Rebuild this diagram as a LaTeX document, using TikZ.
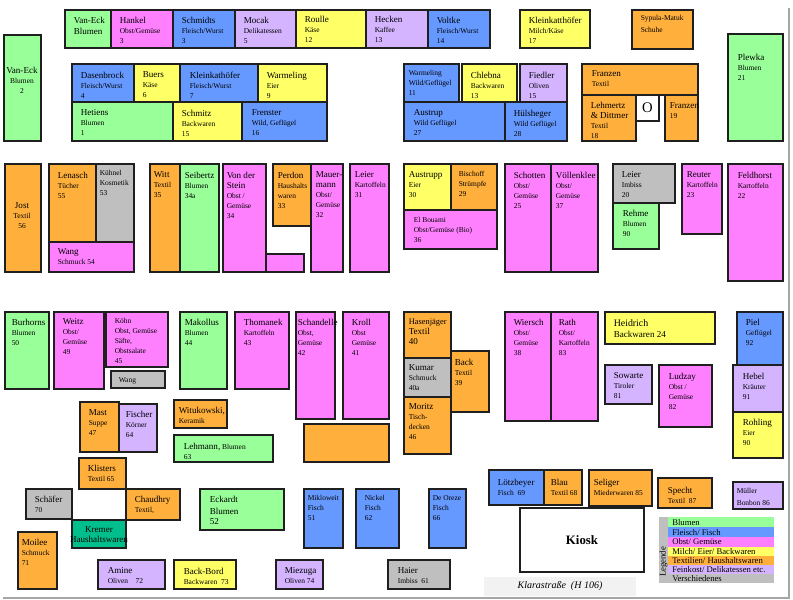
\documentclass[tikz,border=0pt]{standalone}
\usepackage{fontspec}
\setmainfont{Liberation Serif}

\newcommand{\nm}[1]{{\fontsize{6.8}{8}\selectfont #1}}

\definecolor{cblumen}{HTML}{99FF99}
\definecolor{cfleisch}{HTML}{6699FF}
\definecolor{cobst}{HTML}{FF80FF}
\definecolor{cmilch}{HTML}{FFFF66}
\definecolor{ctextil}{HTML}{FFAF3C}
\definecolor{cfein}{HTML}{D4B3FF}
\definecolor{cmisc}{HTML}{BFBFBF}
\definecolor{cteal}{HTML}{00BF8C}

\tikzset{
        stall/.style={draw=black!88, line width=1.15pt},
        blumen/.style={stall, fill=cblumen},
        fleisch/.style={stall, fill=cfleisch},
        obst/.style={stall, fill=cobst},
        milch/.style={stall, fill=cmilch},
        textil/.style={stall, fill=ctextil},
        fein/.style={stall, fill=cfein},
        misc/.style={stall, fill=cmisc},
        info/.style={anchor=north west, inner sep=0pt, align=left, font=\fontsize{5.6}{7.5}\selectfont},
        mid/.style={anchor=north, inner sep=0pt, align=center, font=\fontsize{5.6}{7.5}\selectfont},
        strip/.style={anchor=west, inner sep=0pt, font=\fontsize{6.5}{7}\selectfont}
}

\begin{document}
\begin{tikzpicture}[x=0.75pt, y=-0.75pt]
        \useasboundingbox (0,0) rectangle (793,600);
        \draw[black!35, line width=1.2pt] (789,8) -- (789,598) -- (3,598);

        \draw[blumen] (65,10) rectangle (111,48) node[info] (vaneckb) at (73,16) {\nm{Van-Eck}\\[1pt]\nm{Blumen}};
        \draw[obst] (111,10) rectangle (173,48) node[info] (hankel) at (119,16) {\nm{Hankel}\\Obst/Gemüse\\3};
        \draw[fleisch] (173,10) rectangle (235,48) node[info] (schmidts) at (181,16) {\nm{Schmidts}\\Fleisch/Wurst\\3};
        \draw[fein] (235,10) rectangle (296,48) node[info] (mocak) at (243,16) {\nm{Mocak}\\Delikatessen\\5};
        \draw[milch] (296,10) rectangle (366,48) node[info] (roulle) at (304,15) {\nm{Roulle}\\Käse\\12};
        \draw[fein] (366,10) rectangle (428,48) node[info] (hecken) at (374,15) {\nm{Hecken}\\Kaffee\\13};
        \draw[fleisch] (428,10) rectangle (490,48) node[info] (voltke) at (436,16) {\nm{Voltke}\\Fleisch/Wurst\\14};
        \draw[milch] (520,10) rectangle (590,48) node[info] (kleinkatt) at (528,16) {\nm{Kleinkatthöfer}\\Milch/Käse\\17};
        \draw[textil] (632,10) rectangle (693,49) node[info] (sypula) at (640,15) {Sypula-Matuk\\[1pt]Schuhe};
        \draw[blumen] (728,34) rectangle (783,141) node[info] (plewka) at (737,53) {\nm{Plewka}\\Blumen\\21};
        \draw[blumen] (4,35) rectangle (41,141) node[mid] (vaneck) at (22,66) {\nm{Van-Eck}\\Blumen\\2};

        \draw[fleisch] (72,64) rectangle (134,102) node[info] (dasenbrock) at (80,71) {\nm{Dasenbrock}\\Fleisch/Wurst\\4};
        \draw[milch] (134,64) rectangle (180,102) node[info] (buers) at (142,71) {\nm{Buers}\\Käse\\6};
        \draw[fleisch] (180,64) rectangle (258,102) node[info] (kleinkath) at (189,71) {\nm{Kleinkathöfer}\\Fleisch/Wurst\\7};
        \draw[milch] (258,64) rectangle (327,102) node[info] (warmelinga) at (266,71) {\nm{Warmeling}\\Eier\\9};
        \draw[blumen] (72,102) rectangle (173,141) node[info] (hetiens) at (80,109) {\nm{Hetiens}\\Blumen\\1};
        \draw[milch] (173,102) rectangle (242,141) node[info] (schmitz) at (181,109) {\nm{Schmitz}\\Backwaren\\15};
        \draw[fleisch] (242,102) rectangle (327,141) node[info] (frenster) at (251,109) {\nm{Frenster}\\Wild, Geflügel\\16};

        \draw[fleisch] (404,64) rectangle (459,102) node[info] (warmelingb) at (408,70) {Warmeling\\Wild/Geflügel\\11};
        \draw[milch] (462,64) rectangle (517,102) node[info] (chlebna) at (470,71) {\nm{Chlebna}\\Backwaren\\13};
        \draw[fein] (520,64) rectangle (567,102) node[info] (fiedler) at (528,71) {\nm{Fiedler}\\Oliven\\15};
        \draw[fleisch] (404,102) rectangle (505,141) node[info] (austrup) at (413,109) {\nm{Austrup}\\Wild Geflügel\\27};
        \draw[fleisch] (505,102) rectangle (567,141) node[info] (huelsheger) at (513,109) {\nm{Hülsheger}\\Wild Geflügel\\28};
        \draw[textil] (582,64) rectangle (698,95) node[info] (franzena) at (591,70) {\nm{Franzen}\\Textil};
        \draw[textil] (582,95) rectangle (636,141) node[info] (lehmertz) at (590,101) {\nm{Lehmertz}\\\nm{\& Dittmer}\\Textil\\18};
        \draw[stall, fill=white] (636,95) rectangle (659,121) node[font=\fontsize{11}{12}\selectfont, inner sep=0pt] (oval) at (647.5,108) {O};
        \draw[textil] (665,95) rectangle (698,141) node[info] (franzenb) at (669,102) {\nm{Franzen}\\19};

        \draw[textil] (5,164) rectangle (41,272) node[mid] (jost) at (22,202) {\nm{Jost}\\Textil\\56};
        \draw[textil] (49,164) rectangle (96,242) node[info] (lenasch) at (57,171) {\nm{Lenasch}\\Tücher\\55};
        \draw[misc] (96,164) rectangle (134,242) node[info] (kuehnel) at (99,170) {Kühnel\\Kosmetik\\53};
        \draw[obst] (49,242) rectangle (134,272) node[info] (wanga) at (57,248) {\nm{Wang}\\Schmuck 54};
        \draw[textil] (150,164) rectangle (180,272) node[info] (witt) at (153,171) {\nm{Witt}\\Textil\\35};
        \draw[blumen] (180,164) rectangle (219,272) node[info] (seibertz) at (184,171) {\nm{Seibertz}\\Blumen\\34a};
        \draw[obst] (223,164) rectangle (266,272) node[info] (stein) at (226,171) {\nm{Von der}\\\nm{Stein}\\Obst /\\Gemüse\\34};
        \draw[obst] (266,254) rectangle (304,272);
        \draw[textil] (273,164) rectangle (311,226) node[info] (perdon) at (277,171) {\nm{Perdon}\\Haushalts\\waren\\33};
        \draw[obst] (311,164) rectangle (343,272) node[info] (mauermann) at (315,171) {\nm{Mauer-}\\\nm{mann}\\Obst/\\Gemüse\\32};
        \draw[obst] (350,164) rectangle (389,272) node[info] (leiera) at (354,171) {\nm{Leier}\\Kartoffeln\\31};

        \draw[milch] (404,164) rectangle (451,210) node[info] (austrupp) at (408,171) {\nm{Austrupp}\\Eier\\30};
        \draw[textil] (451,164) rectangle (497,210) node[info] (bischoff) at (458,170) {Bischoff\\Strümpfe\\29};
        \draw[obst] (404,210) rectangle (497,249) node[info] (bouami) at (413,217) {El Bouami\\Obst/Gemüse (Bio)\\36};
        \draw[obst] (505,164) rectangle (551,272) node[info] (schotten) at (513,171) {\nm{Schotten}\\Obst/\\Gemüse\\25};
        \draw[obst] (551,164) rectangle (598,272) node[info] (voellenklee) at (555,171) {\nm{Völlenklee}\\Obst/\\Gemüse\\37};
        \draw[misc] (613,164) rectangle (675,203) node[info] (leierb) at (621,171) {\nm{Leier}\\Imbiss\\20};
        \draw[blumen] (613,203) rectangle (659,249) node[info] (rehme) at (622,209) {\nm{Rehme}\\Blumen\\90};
        \draw[obst] (682,164) rectangle (722,234) node[info] (reuter) at (686,171) {\nm{Reuter}\\Kartoffeln\\23};
        \draw[obst] (728,164) rectangle (783,281) node[info] (feldhorst) at (737,171) {\nm{Feldhorst}\\Kartoffeln\\22};

        \draw[blumen] (5,312) rectangle (49,389) node[info] (burhorns) at (11,318) {\nm{Burhorns}\\Blumen\\50};
        \draw[obst] (54,312) rectangle (104,389) node[info] (weitz) at (62,318) {\nm{Weitz}\\Obst/\\Gemüse\\49};
        \draw[obst] (106,312) rectangle (168,367) node[info] (koehn) at (114,318) {Köhn\\Obst, Gemüse\\Säfte,\\Obstsalate\\45};
        \draw[misc] (111,371) rectangle (165,388) node[info] (wangb) at (118,377) {Wang};
        \draw[blumen] (180,312) rectangle (227,389) node[info] (makollus) at (184,318) {\nm{Makollus}\\Blumen\\44};
        \draw[obst] (235,312) rectangle (289,389) node[info] (thomanek) at (243,318) {\nm{Thomanek}\\Kartoffeln\\43};
        \draw[obst] (296,312) rectangle (335,419) node[info] (schandelle) at (297,318) {\nm{Schandelle}\\Obst,\\Gemüse\\42};
        \draw[obst] (343,312) rectangle (389,419) node[info] (kroll) at (351,318) {\nm{Kroll}\\Obst\\Gemüse\\41};
        \draw[fein] (119,404) rectangle (157,452) node[info] (fischer) at (125,410) {\nm{Fischer}\\Körner\\64};
        \draw[textil] (80,402) rectangle (119,452) node[info] (mast) at (88,409) {\nm{Mast}\\Suppe\\47};
        \draw[textil] (174,400) rectangle (227,428) node[info] (witukowski) at (178,406) {\nm{Witukowski,}\\Keramik};
        \draw[blumen] (174,435) rectangle (273,462) node[info] (lehmann) at (183,442) {\nm{Lehmann,} Blumen\\63};
        \draw[textil] (304,424) rectangle (389,462);

        \draw[textil] (451,351) rectangle (489,412) node[info] (back) at (454,358) {\nm{Back}\\Textil\\39};
        \draw[textil] (404,312) rectangle (451,358) node[info] (hasenjaeger) at (408,318) {{\fontsize{6.3}{8}\selectfont Hasenjäger}\\\nm{Textil}\\\nm{40}};
        \draw[misc] (404,358) rectangle (451,397) node[info] (kumar) at (408,364) {\nm{Kumar}\\Schmuck\\40a};
        \draw[textil] (404,397) rectangle (451,454) node[info] (moritz) at (408,403) {\nm{Moritz}\\Tisch-\\decken\\46};
        \draw[obst] (505,312) rectangle (551,421) node[info] (wiersch) at (513,318) {\nm{Wiersch}\\Obst/\\Gemüse\\38};
        \draw[obst] (551,312) rectangle (598,421) node[info] (rath) at (558,318) {\nm{Rath}\\Obst/\\Kartoffeln\\83};
        \draw[milch] (605,312) rectangle (715,344) node[info] (heidrich) at (613,319) {{\fontsize{7.4}{9}\selectfont Heidrich}\\[1pt]\nm{Backwaren 24}};
        \draw[fein] (605,365) rectangle (652,404) node[info] (sowarte) at (613,372) {\nm{Sowarte}\\Tiroler\\81};
        \draw[obst] (659,365) rectangle (712,427) node[info] (ludzay) at (668,372) {\nm{Ludzay}\\Obst /\\Gemüse\\82};
        \draw[fleisch] (737,312) rectangle (783,365) node[info] (piel) at (745,318) {\nm{Piel}\\Geflügel\\92};
        \draw[fein] (733,365) rectangle (783,412) node[info] (hebel) at (742,372) {\nm{Hebel}\\Kräuter\\91};
        \draw[milch] (733,412) rectangle (783,458) node[info] (rohling) at (742,418) {\nm{Rohling}\\Eier\\90};

        \draw[textil] (79,458) rectangle (126,489) node[info] (klisters) at (87,464) {\nm{Klisters}\\Textil 65};
        \draw[misc] (26,489) rectangle (72,519) node[info] (schaefer) at (34,495) {\nm{Schäfer}\\70};
        \draw[textil] (126,489) rectangle (180,520) node[info] (chaudhry) at (134,495) {\nm{Chaudhry}\\Textil,};
        \draw[stall, fill=cteal] (72,520) rectangle (126,548) node[mid] (kremer) at (99,526) {\nm{Kremer}\\\nm{Haushaltswaren}};
        \draw[textil] (18,532) rectangle (57,589) node[info] (moilee) at (21,538) {\nm{Moilee}\\Schmuck\\71};
        \draw[blumen] (200,489) rectangle (284,530) node[info] (eckardt) at (209,495) {\nm{Eckardt}\\[1.5pt]\nm{Blumen}\\\nm{52}};
        \draw[fleisch] (304,489) rectangle (343,548) node[info] (mikloweit) at (307,495) {Mikloweit\\Fisch\\51};
        \draw[fleisch] (356,489) rectangle (399,548) node[info] (nickel) at (364,495) {Nickel\\Fisch\\62};
        \draw[fleisch] (429,489) rectangle (466,548) node[info] (oreze) at (432,495) {De Oreze\\Fisch\\66};
        \draw[fein] (98,560) rectangle (165,589) node[info] (amine) at (107,567) {\nm{Amine}\\Oliven\quad 72};
        \draw[milch] (174,560) rectangle (236,589) node[info] (backbord) at (183,567) {\nm{Back-Bord}\\Backwaren\enspace 73};
        \draw[fein] (276,560) rectangle (323,589) node[info] (miezuga) at (284,567) {\nm{Miezuga}\\Oliven 74};
        \draw[misc] (388,560) rectangle (450,589) node[info] (haier) at (397,567) {\nm{Haier}\\Imbiss\enspace 61};

        \draw[fleisch] (489,470) rectangle (544,505) node[info] (loetzbeyer) at (497,478) {\nm{Lötzbeyer}\\Fisch\enspace 69};
        \draw[textil] (544,470) rectangle (582,505) node[info] (blau) at (550,478) {\nm{Blau}\\Textil 68};
        \draw[textil] (589,470) rectangle (652,506) node[info] (seliger) at (593,478) {\nm{Seliger}\\Miederwaren 85};
        \draw[textil] (658,478) rectangle (712,508) node[info] (specht) at (667,486) {\nm{Specht}\\Textil\enspace 87};
        \draw[fein] (733,482) rectangle (783,509) node[info] (mueller) at (736,488) {Müller\\[1pt]Bonbon 86};
        \draw[stall, fill=white] (520,508) rectangle (644,572) node[font=\bfseries\fontsize{9.6}{11}\selectfont, inner sep=0pt] (kiosk) at (582,540) {Kiosk};

        \path[fill=black!5] (484,577) rectangle (636,596) node[font=\itshape\fontsize{7.5}{9}\selectfont, inner sep=0pt] (strasse) at (560,586.5) {Klarastraße\enspace(H 106)};

        \path[fill=cmisc] (659,517) rectangle (668,583) node[rotate=90, inner sep=0pt, font=\fontsize{6.5}{7}\selectfont] (legende) at (663.5,562) {Legende};
        \path[fill=cblumen] (668,517.3) rectangle (774,527.3) node[strip] (lgblumen) at (672,522.3) {Blumen};
        \path[fill=cfleisch] (668,527.3) rectangle (774,537) node[strip] (lgfleisch) at (672,532.2) {Fleisch/ Fisch};
        \path[fill=cobst] (668,537) rectangle (774,546.7) node[strip] (lgobst) at (672,541.9) {Obst/ Gemüse};
        \path[fill=cmilch] (668,546.7) rectangle (774,556.3) node[strip] (lgmilch) at (672,551.5) {Milch/ Eier/ Backwaren};
        \path[fill=ctextil] (668,556.3) rectangle (774,565.3) node[strip] (lgtextil) at (672,560.8) {Textilien/ Haushaltswaren};
        \path[fill=cfein] (668,565.3) rectangle (774,574.3) node[strip] (lgfein) at (672,569.8) {Feinkost/ Delikatessen etc.};
        \path[fill=cmisc] (668,574.3) rectangle (774,583.3) node[strip] (lgmisc) at (672,578.8) {Verschiedenes};
\end{tikzpicture}
\end{document}
